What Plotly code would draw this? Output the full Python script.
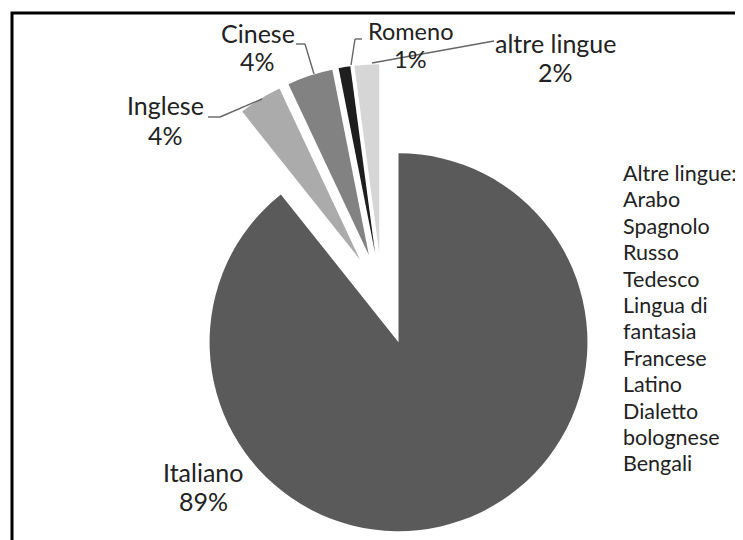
import plotly.graph_objects as go

labels = ["Italiano", "Inglese", "Cinese", "Romeno", "altre lingue"]
values = [89.3, 3.7, 3.9, 1.0, 2.1]
pct_text = ["89%", "4%", "4%", "1%", "2%"]
colors = ["#5a5a5a", "#ababab", "#828282", "#1e1e1e", "#d6d6d6"]
pulls = [0.265, 0.222, 0.222, 0.222, 0.222]

other_title = "Altre lingue:"
other_langs = ["Arabo", "Spagnolo", "Russo", "Tedesco", "Lingua di", "fantasia",
               "Francese", "Latino", "Dialetto", "bolognese", "Bengali"]

W, H = 743, 540
OFF = 8  # page body margin in the viewer
FONT = "Lato"
TXT = "#222222"

fig = go.Figure()
fig.add_trace(go.Pie(
    labels=labels, values=values, sort=False, direction="clockwise", rotation=0,
    marker=dict(colors=colors, line=dict(width=0)),
    pull=pulls, textinfo="none", hoverinfo="label+percent", showlegend=False,
    domain=dict(x=[0.18170, 0.82503], y=[0.02593, 0.91111]),
))

def px(x, y):
    return (x - OFF) / W, 1 - (y - OFF) / H

# slice labels: (center x, y of name line, y of percent line, font size)
label_pos = {
    "Italiano": (203, 472, 501, 25),
    "Inglese": (165, 105, 135, 25),
    "Cinese": (258, 33, 61, 25),
    "Romeno": (410, 31, 59, 23.5),
    "altre lingue": (555, 43, 72, 25),
}
ann = []
for lab, pt in zip(labels, pct_text):
    cx, y1, y2, fs = label_pos[lab]
    for t, yy in ((lab, y1), (pt, y2)):
        X, Y = px(cx, yy)
        ann.append(dict(x=X, y=Y, xref="paper", yref="paper", showarrow=False,
                        text=t, font=dict(family=FONT, size=fs, color=TXT),
                        xanchor="center", yanchor="middle"))

# right side list
lines = [other_title] + other_langs
for i, t in enumerate(lines):
    X, Y = px(621, 173 + i * 26.4)
    ann.append(dict(x=X, y=Y, xref="paper", yref="paper", showarrow=False,
                    text=t, font=dict(family=FONT, size=21.5, color=TXT),
                    xanchor="left", yanchor="middle"))

shapes = []
# leader lines
leaders = [
    [(208, 117), (220, 117), (262, 99)],
    [(296, 44), (305, 44), (314, 74)],
    [(362, 39), (355, 39), (351, 65)],
    [(494, 41), (372, 63)],
]
for pts in leaders:
    for (x0, y0), (x1, y1) in zip(pts[:-1], pts[1:]):
        a0, b0 = px(x0, y0)
        a1, b1 = px(x1, y1)
        shapes.append(dict(type="line", xref="paper", yref="paper",
                           x0=a0, y0=b0, x1=a1, y1=b1,
                           line=dict(color="#666666", width=1.4)))
# frame
fx0, fy1 = px(12, 13)
shapes.append(dict(type="rect", xref="paper", yref="paper",
                   x0=fx0, y0=-0.05, x1=1.05, y1=fy1,
                   line=dict(color="black", width=3)))

fig.update_layout(
    width=W, height=H, margin=dict(l=0, r=0, t=0, b=0),
    paper_bgcolor="white", plot_bgcolor="white",
    annotations=ann, shapes=shapes,
)
fig.write_html("out.html")
